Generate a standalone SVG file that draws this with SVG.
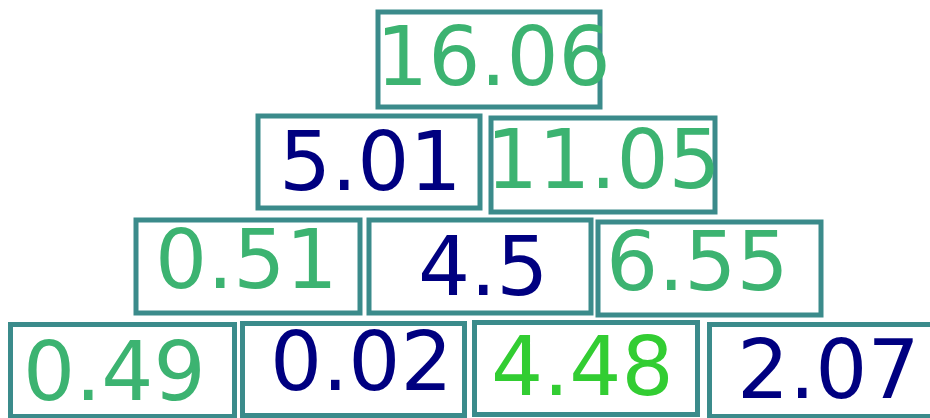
<svg xmlns="http://www.w3.org/2000/svg" width="930" height="418" viewBox="0 0 930 418">
<style>
rect.b{fill:#ffffff;stroke:#3b8b8b;stroke-width:5}
text{font-family:"DejaVu Sans","Liberation Sans",sans-serif;font-size:82px}
.g{fill:#3cb371}
.n{fill:#000080}
.l{fill:#32cd32}
</style>
<rect width="930" height="418" fill="#ffffff"/>
<g id="connectors"></g>
<g id="n1"><rect class="b" x="378" y="12" width="222" height="95"/><text class="g" x="376" y="85">16.06</text></g>
<g id="n2"><rect class="b" x="258" y="116" width="222" height="92"/><text class="n" x="279" y="190">5.01</text></g>
<g id="n3"><rect class="b" x="491" y="118" width="224" height="94"/><text class="g" x="486" y="188">11.05</text></g>
<g id="n4"><rect class="b" x="136" y="220" width="224" height="93"/><text class="g" x="155" y="288">0.51</text></g>
<g id="n5"><rect class="b" x="369" y="220" width="222" height="93"/><text class="n" x="418" y="295">4.5</text></g>
<g id="n6"><rect class="b" x="598" y="222" width="223" height="93"/><text class="g" x="606" y="290">6.55</text></g>
<g id="n7"><rect class="b" x="10.5" y="324.5" width="224" height="92"/><text class="g" x="23" y="400">0.49</text></g>
<g id="n8"><rect class="b" x="242.5" y="323.5" width="222" height="92"/><text class="n" x="270" y="390">0.02</text></g>
<g id="n9"><rect class="b" x="474.5" y="322.5" width="223" height="92"/><text class="l" x="491" y="395">4.48</text></g>
<g id="n10"><rect class="b" x="709.5" y="324.5" width="224" height="92"/><text class="n" x="737" y="398">2.07</text></g>
</svg>
